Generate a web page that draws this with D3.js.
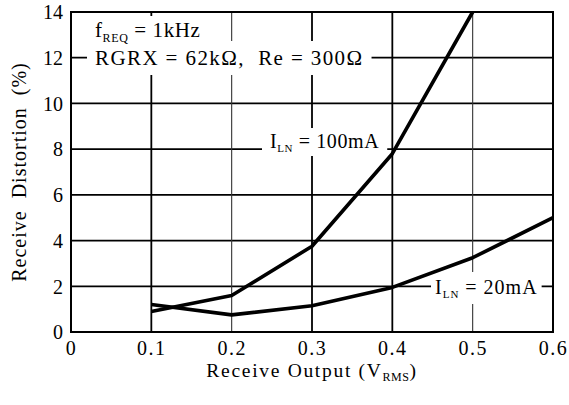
<!DOCTYPE html>
<html><head><meta charset="utf-8">
<script src="https://cdn.jsdelivr.net/npm/d3@7"></script>
<style>
body{margin:0;background:#fff}
text{font-family:"Liberation Serif","Times New Roman",serif;fill:#000}
</style>
</head><body>
<svg id="c" width="569" height="405"></svg>
<script>
// ---- data ----
const xTickValues = [0, 0.1, 0.2, 0.3, 0.4, 0.5, 0.6];
const xTickLabels = ["0", "0.1", "0.2", "0.3", "0.4", "0.5", "0.6"];
const yTickValues = [0, 2, 4, 6, 8, 10, 12, 14];
const yTickLabels = ["0", "2", "4", "6", "8", "10", "12", "14"];
const i100X = [0.1, 0.2, 0.3, 0.4, 0.5];
const i100Y = [0.9, 1.6, 3.75, 7.8, 14];
const i20X = [0.1, 0.2, 0.3, 0.4, 0.5, 0.6];
const i20Y = [1.2, 0.75, 1.15, 1.95, 3.25, 5.0];

const svg = d3.select("#c");
const x = d3.scaleLinear().domain([0, 0.6]).range([71, 553]);
const y = d3.scaleLinear().domain([0, 14]).range([332, 12]);

const gGrid = svg.append("g");
const gBox = svg.append("g");
const gLines = svg.append("g");
const gFrame = svg.append("g");
const gText = svg.append("g");

// gridlines
gGrid.selectAll("line.h").data(yTickValues.filter(v => v > 0 && v < 14)).enter()
  .append("line").attr("x1", x(0)).attr("x2", x(0.6))
  .attr("y1", d => y(d)).attr("y2", d => y(d))
  .attr("stroke", "#000").attr("stroke-width", 1.8);
gGrid.selectAll("line.v").data(xTickValues.filter(v => v > 0 && v < 0.6)).enter()
  .append("line").attr("y1", y(0)).attr("y2", y(14))
  .attr("x1", d => x(d)).attr("x2", d => x(d))
  .attr("stroke", (d, i) => (i === 1 || i === 4) ? "#333" : "#000")
  .attr("stroke-width", (d, i) => (i === 1 || i === 4) ? 1.1 : 1.8);

// curves
const line = d3.line().x(d => x(d[0])).y(d => y(d[1]));
[[i100X, i100Y], [i20X, i20Y]].forEach(([xs, ys]) => {
  gLines.append("path").attr("d", line(xs.map((v, i) => [v, ys[i]])))
    .attr("fill", "none").attr("stroke", "#000").attr("stroke-width", 3.6)
    .attr("stroke-linejoin", "round");
});

// frame
gFrame.append("rect").attr("x", x(0)).attr("y", y(14))
  .attr("width", x(0.6) - x(0)).attr("height", y(0) - y(14))
  .attr("fill", "none").attr("stroke", "#000").attr("stroke-width", 2);

// axes tick labels (via d3 axes, domain/ticks hidden)
const xAxis = d3.axisBottom(x).tickValues(xTickValues)
  .tickFormat((d, i) => xTickLabels[i]).tickSize(0).tickPadding(0);
const gx = gText.append("g").attr("transform", `translate(0,${y(0)})`).call(xAxis);
gx.select(".domain").remove();
gx.selectAll("text").attr("font-size", 20).attr("letter-spacing", 1.5)
  .attr("font-family", "Liberation Serif").attr("fill", "#000")
  .attr("dy", 0).attr("y", 23);

const yAxis = d3.axisLeft(y).tickValues(yTickValues)
  .tickFormat((d, i) => yTickLabels[i]).tickSize(0).tickPadding(8);
const gy = gText.append("g").attr("transform", `translate(${x(0)},0)`).call(yAxis);
gy.select(".domain").remove();
gy.selectAll("text").attr("font-size", 20).attr("font-family", "Liberation Serif")
  .attr("fill", "#000").attr("dy", "0.34em");

// axis titles
const xt = gText.append("text").attr("x", (x(0) + x(0.6)) / 2).attr("y", 377)
  .attr("text-anchor", "middle").attr("font-size", 19.5).attr("letter-spacing", 1.7);
xt.append("tspan").text("Receive Output (V");
xt.append("tspan").text("RMS").attr("font-size", 12).attr("dy", 4).attr("letter-spacing", 0.5);
xt.append("tspan").text(")").attr("dy", -4);

gText.append("text").attr("transform", `translate(26,${(y(0) + y(14)) / 2}) rotate(-90)`)
  .attr("text-anchor", "middle").attr("font-size", 20).attr("letter-spacing", 1)
  .style("white-space", "pre").text("Receive  Distortion  (%)");

// annotations
function label(px, py, parts, fs, ls, padX, padY) {
  const t = gText.append("text").attr("x", px).attr("y", py)
    .attr("font-size", fs).attr("letter-spacing", ls).style("white-space", "pre");
  parts.forEach(p => {
    const s = t.append("tspan").text(p.t);
    if (p.sub) s.attr("font-size", p.sub).attr("dy", p.dy);
    if (p.back) s.attr("dy", -p.back);
  });
  const b = t.node().getBBox();
  gBox.append("rect").attr("x", b.x - padX).attr("y", b.y - padY)
    .attr("width", b.width + 2 * padX).attr("height", b.height + 2 * padY)
    .attr("fill", "#fff");
  return t;
}
label(95, 37, [{t: "f"}, {t: "REQ", sub: 12, dy: 5}, {t: " = 1kHz", back: 5}], 21, 0.6, 4, 2);
label(95, 65, [{t: "RGRX = 62kΩ,  Re = 300Ω"}], 21, 1.4, 8, 5);
label(270, 148, [{t: "I"}, {t: "LN", sub: 11, dy: 4}, {t: " = 100mA", back: 4}], 20, 0.6, 8, 2);
label(435, 294, [{t: "I"}, {t: "LN", sub: 11, dy: 4}, {t: " = 20mA", back: 4}], 20, 1.0, 4, 4);
</script>
</body></html>
